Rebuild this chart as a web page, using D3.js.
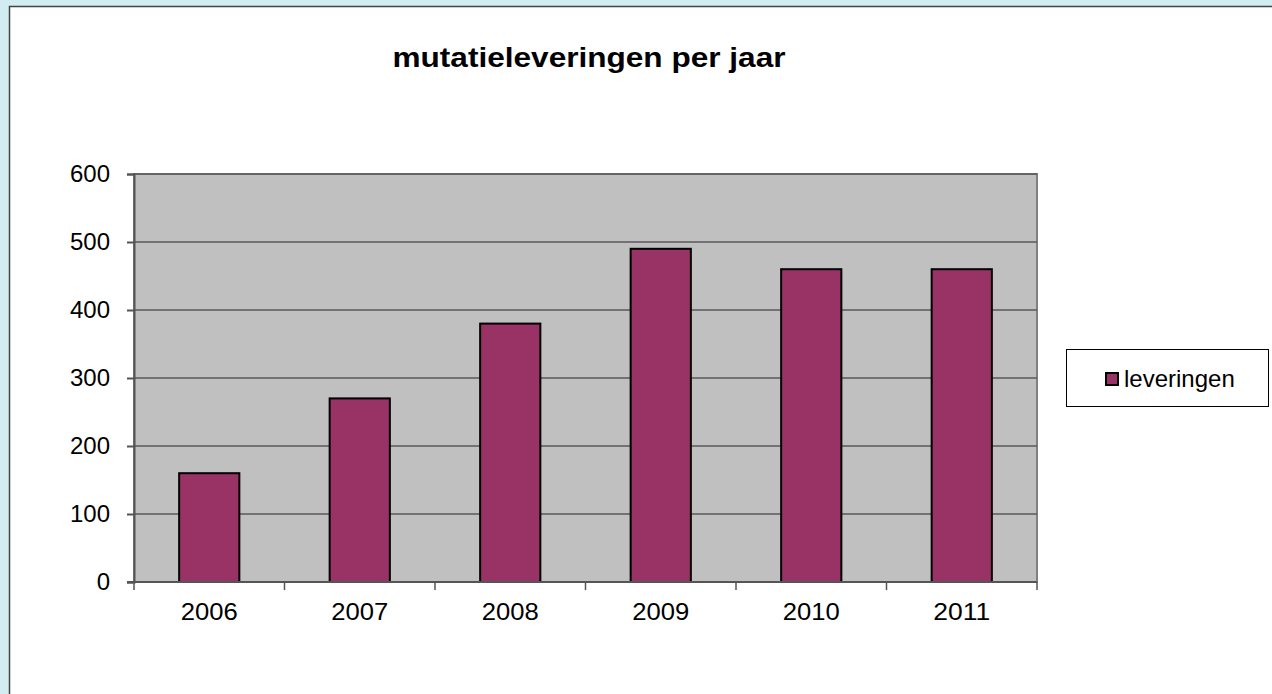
<!DOCTYPE html>
<html lang="en">
	<head>
		<meta charset="utf-8">
		<title>mutatieleveringen per jaar</title>
		<script type="text/javascript" src="https://cdn.jsdelivr.net/npm/d3@7"></script>
		<style type="text/css">
			body { margin: 0; background: #d2edf2; }
			svg { display: block; }
			text { font-family: "Liberation Sans", Arial, sans-serif; }
		</style>
	</head>
	<body>
		<script type="text/javascript">

			//Data
			var years = ["2006", "2007", "2008", "2009", "2010", "2011"];
			var leveringen = [160, 270, 380, 490, 460, 460];
			var yTicks = [0, 100, 200, 300, 400, 500, 600];
			var seriesName = "leveringen";
			var title = "mutatieleveringen per jaar";

			//Width and height
			var w = 1272;
			var h = 694;
			var plot = { left: 134, top: 174, right: 1037, bottom: 582 };

			var svg = d3.select("body")
						.append("svg")
						.attr("width", w)
						.attr("height", h);

			//Chart frame
			svg.append("rect")
				.attr("x", 9.5).attr("y", 6.5)
				.attr("width", w).attr("height", h)
				.attr("fill", "white")
				.attr("stroke", "#444")
				.attr("stroke-width", 1.5);

			//Scales
			var xScale = d3.scaleBand()
							.domain(years)
							.range([plot.left, plot.right])
							.paddingInner(0.6)
							.paddingOuter(0.3);

			var xOuter = d3.scaleBand()
							.domain(years)
							.range([plot.left, plot.right]);

			var yScale = d3.scaleLinear()
							.domain([0, 600])
							.range([plot.bottom, plot.top]);

			//Plot area
			svg.append("rect")
				.attr("x", plot.left)
				.attr("y", plot.top)
				.attr("width", plot.right - plot.left)
				.attr("height", plot.bottom - plot.top)
				.attr("fill", "#c0c0c0")
				.attr("stroke", "#808080")
				.attr("stroke-width", 2);

			//Gridlines
			svg.selectAll("line.grid")
				.data(yTicks.slice(1))
				.enter()
				.append("line")
				.attr("class", "grid")
				.attr("x1", plot.left)
				.attr("x2", plot.right)
				.attr("y1", function(d) { return yScale(d); })
				.attr("y2", function(d) { return yScale(d); })
				.attr("stroke", "#5a5a5a")
				.attr("stroke-width", 1.3);

			//Bars
			svg.selectAll("rect.bar")
				.data(leveringen)
				.enter()
				.append("rect")
				.attr("class", "bar")
				.attr("x", function(d, i) { return xScale(years[i]); })
				.attr("y", function(d) { return yScale(d); })
				.attr("width", xScale.bandwidth())
				.attr("height", function(d) { return yScale(0) - yScale(d); })
				.attr("fill", "#993366")
				.attr("stroke", "black")
				.attr("stroke-width", 2);

			//Y axis
			var yAxis = d3.axisLeft(yScale)
							.tickValues(yTicks)
							.tickSize(7)
							.tickPadding(17);

			var gy = svg.append("g")
				.attr("transform", "translate(" + plot.left + ",0)")
				.call(yAxis);
			gy.selectAll("path, line").attr("stroke", "#555").attr("stroke-width", 2);
			gy.selectAll("text")
				.attr("font-size", "24px")
				.attr("fill", "black")
				.attr("font-family", "Liberation Sans, Arial, sans-serif");

			//X axis (ticks at category boundaries)
			var gx = svg.append("g");
			gx.append("line")
				.attr("x1", plot.left - 7).attr("x2", plot.right)
				.attr("y1", plot.bottom).attr("y2", plot.bottom)
				.attr("stroke", "#555").attr("stroke-width", 2);

			var bounds = years.map(function(y) { return xOuter(y); }).concat([plot.right]);
			gx.selectAll("line.tick")
				.data(bounds)
				.enter()
				.append("line")
				.attr("class", "tick")
				.attr("x1", function(d) { return d; })
				.attr("x2", function(d) { return d; })
				.attr("y1", plot.bottom)
				.attr("y2", plot.bottom + 8)
				.attr("stroke", "#555")
				.attr("stroke-width", 1.5);

			gx.selectAll("text")
				.data(years)
				.enter()
				.append("text")
				.text(function(d) { return d; })
				.attr("text-anchor", "middle")
				.attr("x", function(d) { return xOuter(d) + xOuter.bandwidth() / 2; })
				.attr("y", plot.bottom + 38)
				.attr("font-size", "24px")
				.attr("textLength", 57)
				.attr("lengthAdjust", "spacingAndGlyphs")
				.attr("fill", "black");

			//Title
			svg.append("text")
				.text(title)
				.attr("x", 589)
				.attr("y", 67)
				.attr("text-anchor", "middle")
				.attr("font-size", "27px")
				.attr("font-weight", "bold")
				.attr("textLength", 393)
				.attr("lengthAdjust", "spacingAndGlyphs")
				.attr("fill", "black");

			//Legend
			var legend = svg.append("g");
			legend.append("rect")
				.attr("x", 1066.5).attr("y", 349.5)
				.attr("width", 202).attr("height", 57)
				.attr("fill", "white")
				.attr("stroke", "black")
				.attr("stroke-width", 1);
			legend.append("rect")
				.attr("x", 1106).attr("y", 373)
				.attr("width", 12).attr("height", 12)
				.attr("fill", "#993366")
				.attr("stroke", "black")
				.attr("stroke-width", 2);
			legend.append("text")
				.text(seriesName)
				.attr("x", 1124)
				.attr("y", 387)
				.attr("font-size", "24px")
				.attr("fill", "black");

		</script>
	</body>
</html>
